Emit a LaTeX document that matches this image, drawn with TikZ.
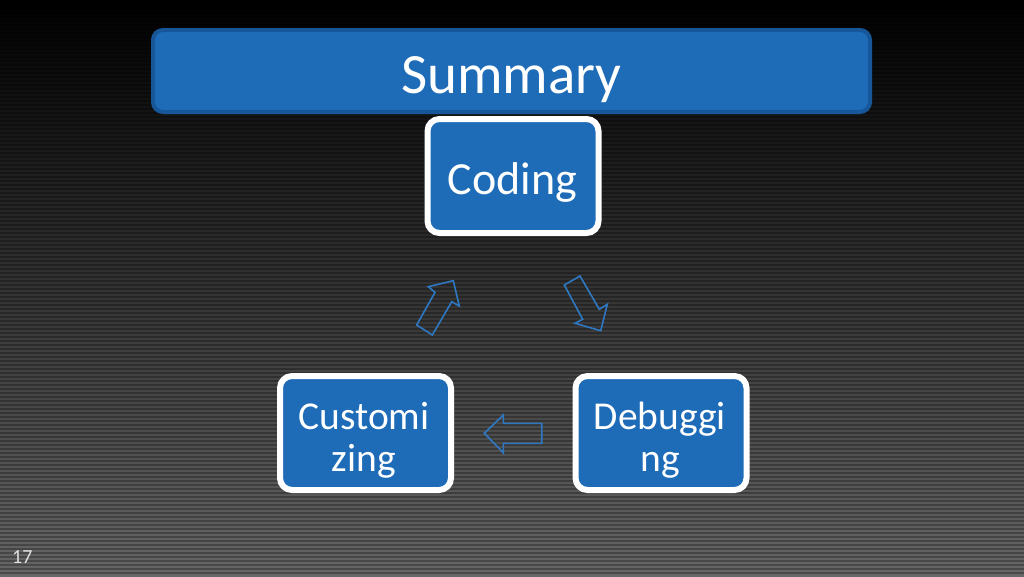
\documentclass[tikz,border=0pt]{standalone}
\usepackage{fontspec}
\setmainfont{Carlito}
\definecolor{titlefill}{HTML}{1E6CB8}
\definecolor{titleedge}{HTML}{18569A}
\definecolor{boxfill}{HTML}{1E6CB8}
\definecolor{arrowcol}{HTML}{2E78C2}
\definecolor{bgbottom}{HTML}{666666}
\tikzset{
  titlebar/.style={draw=titleedge, line width=4pt, fill=titlefill, rounded corners=10pt,
    minimum width=717pt, minimum height=82pt, inner sep=0pt},
  stepbox/.style={draw=white, line width=6pt, fill=boxfill, rounded corners=12pt,
    minimum width=171pt, minimum height=114pt, inner sep=0pt},
  boxtext/.style={text=white, align=center, inner sep=0pt,
    font=\fontsize{39.5}{39.5}\selectfont},
  blockarrow/.style={draw=arrowcol, line width=1.6pt, line join=miter},
}
\begin{document}
\begin{tikzpicture}[x=1pt,y=-1pt]
\useasboundingbox (0,0) rectangle (1024,576);
% background
\shade[top color=black, bottom color=bgbottom] (0,0) rectangle (1024,576);
\foreach \yy in {0,4,...,572} \fill[black,opacity=0.28] (0,\yy) rectangle (1024,\yy+2);
% title
\node[titlebar] (title) at (511.5,71) {};
\node[text=white, anchor=base, inner sep=0pt, font=\fontsize{57}{57}\selectfont] (titletext) at (511.5,93) {Summary};
% boxes
\node[stepbox] (coding) at (513,176) {};
\node[stepbox] (custom) at (365.5,433) {};
\node[stepbox] (debug) at (661,433) {};
\node[boxtext, anchor=base, font=\fontsize{46}{46}\selectfont] (codingtext) at (512.5,194) {Coding};
\node[boxtext, anchor=base] (customtext1) at (364,429.5) {Customi};
\node[boxtext, anchor=base] (customtext2) at (364,471) {zing};
\node[boxtext, anchor=base] (debugtext1) at (660,429.5) {Debuggi};
\node[boxtext, anchor=base] (debugtext2) at (660,471) {ng};
% block arrows of the cycle
\draw[blockarrow] (416.7,325) -- (432.3,335) -- (451.7,301.7) -- (459.3,306) -- (453.3,280.7) -- (428.3,286.7) -- (435,292.3) -- cycle;
\draw[blockarrow] (564.3,285) -- (580,276) -- (599.3,309.3) -- (607.3,304.3) -- (600.7,330.7) -- (575,323.3) -- (582.7,319.3) -- cycle;
\draw[blockarrow] (541.7,423.3) -- (503.3,423.3) -- (503.3,415) -- (484.3,433.3) -- (503.3,452.7) -- (503.3,443.3) -- (541.7,443.3) -- cycle;
% slide number
\node[text=white!88!black, anchor=base west, inner sep=0pt, font=\fontsize{20}{20}\selectfont] (slidenum) at (12,563.5) {17};
\end{tikzpicture}
\end{document}
